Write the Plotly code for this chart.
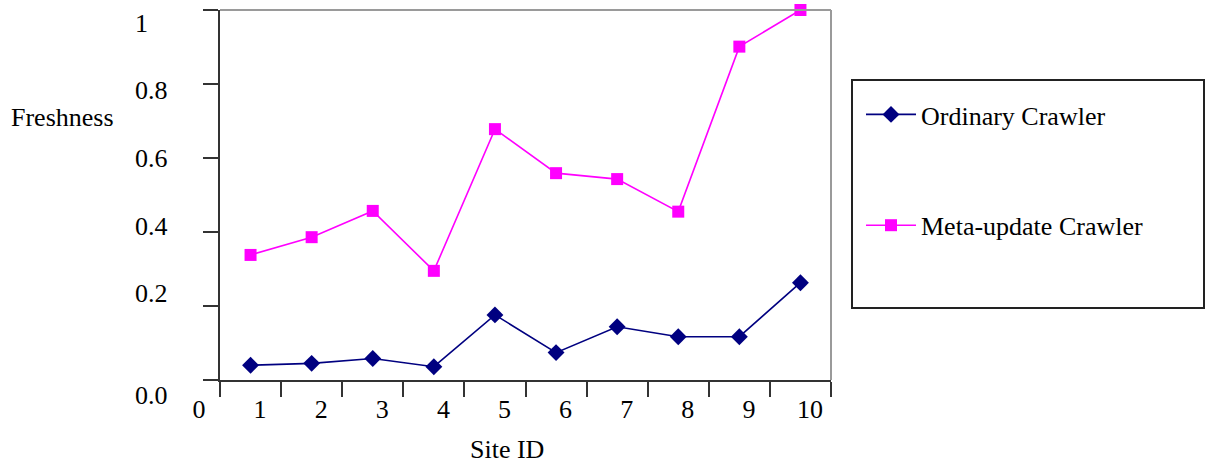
import plotly.graph_objects as go

# ---- data ----
site_ids = [1, 2, 3, 4, 5, 6, 7, 8, 9, 10]
ordinary = [0.040, 0.045, 0.058, 0.036, 0.176, 0.074, 0.144, 0.117, 0.117, 0.263]
meta_update = [0.338, 0.386, 0.457, 0.295, 0.678, 0.559, 0.543, 0.455, 0.901, 1.000]
x_tick_vals = [0, 1, 2, 3, 4, 5, 6, 7, 8, 9, 10]
x_tick_text = ["0", "1", "2", "3", "4", "5", "6", "7", "8", "9", "10"]
y_tick_vals = [0.0, 0.2, 0.4, 0.6, 0.8, 1.0]
y_tick_text = ["0.0", "0.2", "0.4", "0.6", "0.8", "1"]
series_names = ["Ordinary Crawler", "Meta-update Crawler"]

# ---- layout geometry (pixels) ----
W, H = 1206, 465
PL, PR, PT, PB = 220, 831, 10, 380
FONT = "Liberation Serif"
FS = 26


def px_x(px):
    return (px - PL) / (PR - PL)


def px_y(py):
    return (PB - py) / (PB - PT)


# category centres sit between the integer boundary ticks
x_pos = [s - 0.5 for s in site_ids]

fig = go.Figure()
fig.add_trace(go.Scatter(
    x=x_pos, y=ordinary, name=series_names[0], mode="lines+markers",
    line=dict(color="#000080", width=1.6),
    marker=dict(symbol="diamond", size=13, color="#000080"),
    cliponaxis=False, legendgroup="a",
))
fig.add_trace(go.Scatter(
    x=x_pos, y=meta_update, name=series_names[1], mode="lines+markers",
    line=dict(color="#FF00FF", width=1.6),
    marker=dict(symbol="square", size=12, color="#FF00FF"),
    cliponaxis=False, legendgroup="b",
))

annotations = []
# y tick labels (slightly irregular placement as in the original)
y_label_shift = [-15, 13, 6, 0, -6, -13]
for v, t, sh in zip(y_tick_vals, y_tick_text, y_label_shift):
    annotations.append(dict(
        x=0, xref="paper", y=v, yref="y", text=t, showarrow=False,
        xanchor="left", yanchor="middle", xshift=133 - PL, yshift=sh,
        font=dict(family=FONT, size=FS, color="black"),
    ))
annotations.append(dict(
    x=px_x(9), xref="paper", y=px_y(117), yref="paper", text="Freshness",
    showarrow=False, xanchor="left", yanchor="middle",
    font=dict(family=FONT, size=FS, color="black"),
))
annotations.append(dict(
    x=px_x(507), xref="paper", y=px_y(449), yref="paper", text="Site ID",
    showarrow=False, xanchor="center", yanchor="middle",
    font=dict(family=FONT, size=FS, color="black"),
))

shapes = [
    # gray top/right frame of plot area
    dict(type="line", xref="paper", yref="paper", x0=0, y0=1, x1=1, y1=1,
         line=dict(color="#9a9a9a", width=2)),
    dict(type="line", xref="paper", yref="paper", x0=1, y0=1, x1=1, y1=0,
         line=dict(color="#9a9a9a", width=2)),
    # legend box
    dict(type="rect", xref="paper", yref="paper",
         x0=px_x(852), y0=px_y(80), x1=px_x(1204), y1=px_y(308),
         line=dict(color="#222222", width=2), fillcolor="rgba(0,0,0,0)"),
]

fig.update_layout(
    width=W, height=H,
    margin=dict(l=PL, r=W - PR, t=PT, b=H - PB, autoexpand=False),
    paper_bgcolor="white", plot_bgcolor="white",
    font=dict(family=FONT, size=FS, color="black"),
    showlegend=True,
    legend=dict(
        x=px_x(861), y=px_y(91), xanchor="left", yanchor="top",
        bgcolor="rgba(0,0,0,0)", borderwidth=0,
        font=dict(family=FONT, size=FS, color="black"),
        traceorder="grouped", tracegroupgap=74, itemwidth=50,
    ),
    annotations=annotations,
    shapes=shapes,
)
fig.update_xaxes(
    range=[0, 10], tickmode="array", tickvals=x_tick_vals, ticktext=x_tick_text,
    ticks="outside", ticklen=15, tickwidth=2, tickcolor="#333333",
    showline=True, linecolor="#333333", linewidth=2,
    showgrid=False, zeroline=False,
    tickfont=dict(family=FONT, size=FS, color="black"),
    ticklabelshift=-21, ticklabelstandoff=-10,
)
fig.update_yaxes(
    range=[0, 1], tickmode="array", tickvals=y_tick_vals,
    ticks="outside", ticklen=15, tickwidth=2, tickcolor="#333333",
    showline=True, linecolor="#333333", linewidth=2,
    showgrid=False, zeroline=False, showticklabels=False,
)

fig.write_html("out.html")
